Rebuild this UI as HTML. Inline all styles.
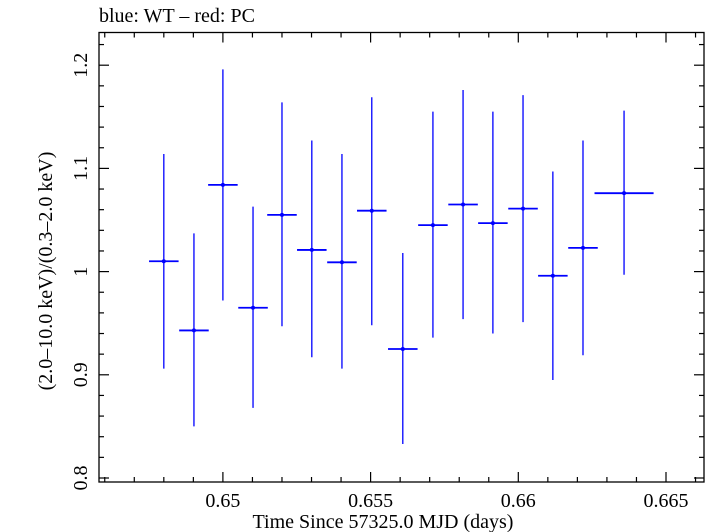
<!DOCTYPE html>
<html><head><meta charset="utf-8"><style>
body{margin:0;background:#fff;}
svg{display:block;font-family:"Liberation Serif",serif;}
</style></head><body>
<svg id="chart" width="705" height="532" viewBox="0 0 705 532" xmlns="http://www.w3.org/2000/svg">
<text x="99" y="22" font-size="20">blue: WT – red: PC</text>
<rect x="99" y="32.5" width="605" height="449.5" fill="none" stroke="#000" stroke-width="1.3"/>
<g id="ticks"></g>
<g id="marks"></g>
<text x="383" y="528" font-size="20" text-anchor="middle">Time Since 57325.0 MJD (days)</text>
<text transform="translate(52,271) rotate(-90)" font-size="20" text-anchor="middle">(2.0–10.0 keV)/(0.3–2.0 keV)</text>
</svg>
<script>
const times=[0.64800,0.64902,0.65000,0.65102,0.65200,0.65301,0.65403,0.65504,0.65609,0.65711,0.65813,0.65914,0.66016,0.66117,0.66219,0.66358];
const halfWidths=[0.0005,0.0005,0.0005,0.0005,0.0005,0.0005,0.0005,0.0005,0.0005,0.0005,0.0005,0.0005,0.0005,0.0005,0.0005,0.001];
const ratios=[1.010,0.943,1.084,0.965,1.055,1.021,1.009,1.059,0.925,1.045,1.065,1.047,1.061,0.996,1.023,1.076];
const upper=[1.114,1.037,1.196,1.063,1.164,1.127,1.114,1.169,1.018,1.155,1.176,1.155,1.171,1.097,1.127,1.156];
const lower=[0.906,0.850,0.972,0.868,0.947,0.917,0.906,0.948,0.833,0.936,0.954,0.940,0.951,0.895,0.919,0.997];
const xTickLabels=["0.65","0.655","0.66","0.665"];
const yTickLabels=["0.8","0.9","1","1.1","1.2"];
const NS="http://www.w3.org/2000/svg";
const L=99,R=704,T=32.5,B=482;
function xs(v){return 222.9+(v-0.65)/0.005*147.7;}
function ys(v){return 271.6-(v-1.0)/0.1*103.2;}
function mk(tag,attrs,parent){const e=document.createElementNS(NS,tag);for(const k in attrs)e.setAttribute(k,attrs[k]);parent.appendChild(e);return e;}
const tg=document.getElementById('ticks'),mg=document.getElementById('marks');
for(let i=0;i<=21;i++){const v=0.646+i*0.001;const x=xs(v);if(x<L||x>R)continue;
 const major=Math.abs((v*1000)%5)<1e-6||Math.abs((v*1000)%5-5)<1e-6;const len=major?10:5;
 const t1=mk('line',{x1:x,x2:x,y1:B,y2:B-len,stroke:'#000','stroke-width':1.2},tg);
 
 
 const t2=mk('line',{x1:x,x2:x,y1:T,y2:T+len,stroke:'#000','stroke-width':1.2},tg);
 
 }
xTickLabels.forEach(s=>{const t=mk('text',{x:xs(parseFloat(s)),y:507,'font-size':20,'text-anchor':'middle'},tg);t.textContent=s;
 
 });
for(let i=0;i<=22;i++){const v=0.8+i*0.02;const y=ys(v);if(y<T||y>B)continue;
 const major=i%5===0;const len=major?10:5;
 const t1=mk('line',{x1:L,x2:L+len,y1:y,y2:y,stroke:'#000','stroke-width':1.2},tg);
 
 
 const t2=mk('line',{x1:R,x2:R-len,y1:y,y2:y,stroke:'#000','stroke-width':1.2},tg);
 
 }
yTickLabels.forEach(s=>{const y=ys(parseFloat(s));const t=mk('text',{transform:`translate(87,${y}) rotate(-90)`,'font-size':20,'text-anchor':'middle'},tg);t.textContent=s;
 
 });
times.forEach((t,i)=>{const g=mk('g',{},mg);
 
 
 const x=xs(t),y=ys(ratios[i]);
 mk('line',{x1:x,x2:x,y1:ys(upper[i]),y2:ys(lower[i]),stroke:'#0000ff','stroke-width':1.3},g);
 mk('line',{x1:xs(t-halfWidths[i]),x2:xs(t+halfWidths[i]),y1:y,y2:y,stroke:'#0000ff','stroke-width':1.8},g);
 mk('circle',{cx:x,cy:y,r:2,fill:'#0000ff'},g);});
</script>
</body></html>
